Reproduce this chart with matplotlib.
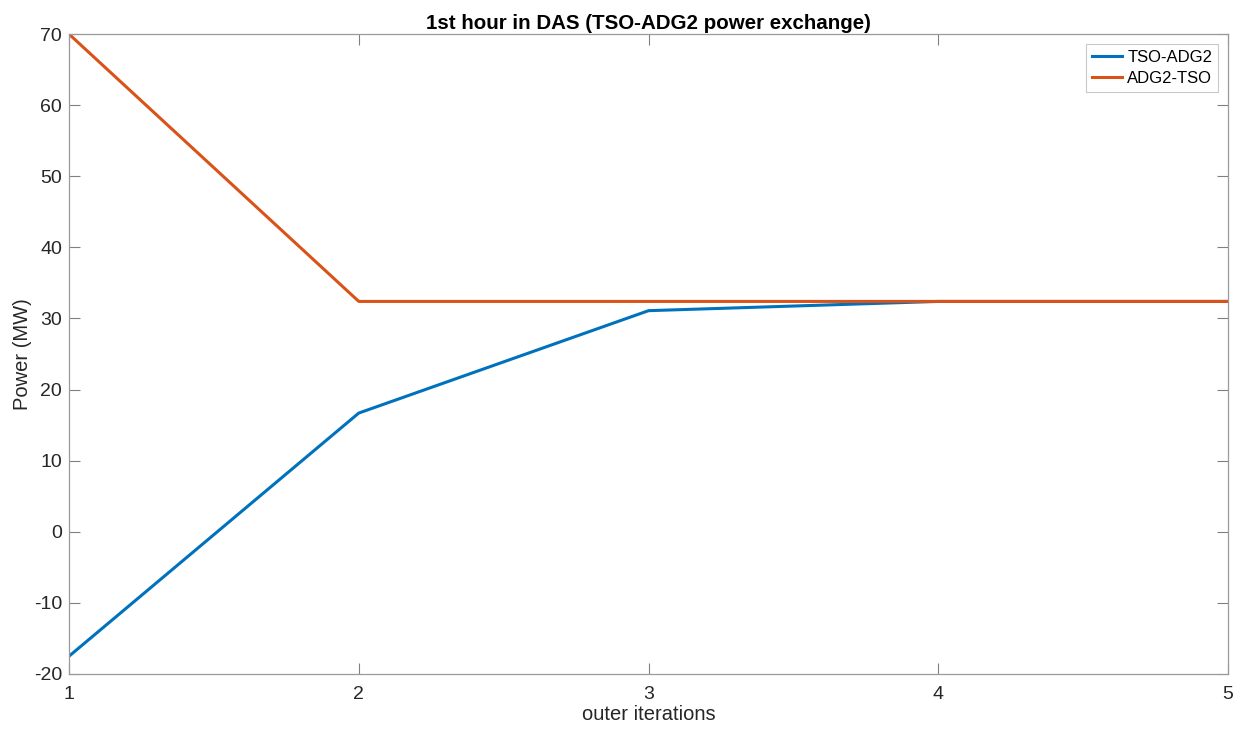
import numpy as np
import matplotlib.pyplot as plt

plt.rcParams['font.family'] = ['Liberation Sans', 'DejaVu Sans']
plt.rcParams['axes.unicode_minus'] = False

iterations = [1, 2, 3, 4, 5]
tso_adg2 = [-17.5, 16.7, 31.1, 32.4, 32.4]
adg2_tso = [70.0, 32.4, 32.4, 32.4, 32.4]

fig = plt.figure(figsize=(12.41, 7.33), dpi=100)
ax = fig.add_axes([0.0556, 0.0805, 0.934, 0.873])

ax.plot(iterations, tso_adg2, color='#0072BD', lw=2.2, label='TSO-ADG2')
ax.plot(iterations, adg2_tso, color='#D95319', lw=2.2, label='ADG2-TSO')

ax.set_xlim(1, 5)
ax.set_ylim(-20, 70)
ax.set_xticks(iterations)
ax.set_yticks(np.arange(-20, 71, 10))
ax.tick_params(direction='in', length=8, width=0.8, color='#808080',
               labelcolor='#262626', labelsize=14, top=True, right=True)
ax.tick_params(axis='x', pad=9)
ax.tick_params(axis='y', pad=5)
for s in ax.spines.values():
    s.set_color('#9a9a9a')
    s.set_linewidth(0.9)

ax.set_xlabel('outer iterations', fontsize=14.5, color='#262626', labelpad=1)
ax.set_ylabel('Power (MW)', fontsize=14.5, color='#262626', labelpad=1)
ax.set_title('1st hour in DAS (TSO-ADG2 power exchange)', fontsize=14.8,
             fontweight='bold', color='#000000', pad=4)

leg = ax.legend(loc='upper right', fontsize=12, frameon=True, fancybox=False,
                handlelength=1.8, borderpad=0.35, labelspacing=0.35,
                handletextpad=0.3, borderaxespad=0.6)
leg.get_frame().set_edgecolor('#bbbbbb')
leg.get_frame().set_linewidth(0.8)

fig.savefig('out.png', dpi=100)
